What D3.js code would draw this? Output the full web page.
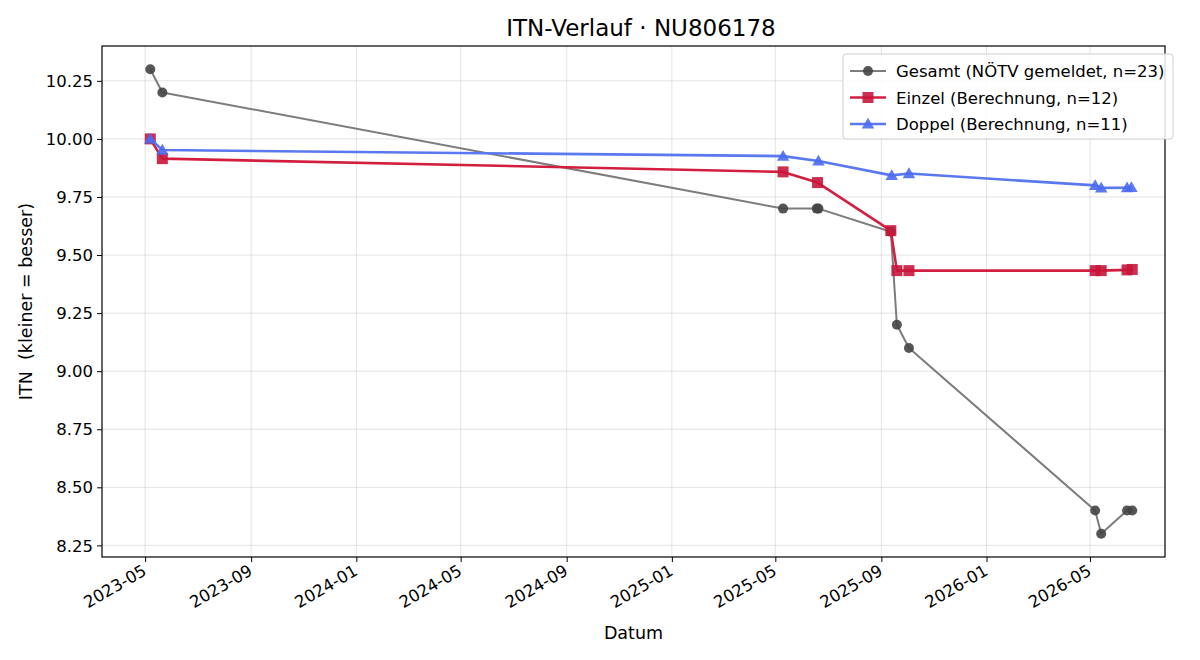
<!DOCTYPE html>
<html>
<head>
<meta charset="utf-8">
<script src="https://cdn.jsdelivr.net/npm/d3@7"></script>
<style>
  body { margin: 0; background: white; }
  text { font-family: "DejaVu Sans", sans-serif; fill: #000; }
</style>
</head>
<body>
<svg id="plot"></svg>
<script>
// Data
const gesamtDates = ["2023-05-07", "2023-05-21", "2025-05-10", "2025-06-18", "2025-06-20", "2025-09-12",
  "2025-09-19", "2025-10-03", "2026-05-07", "2026-05-14", "2026-06-13", "2026-06-19"];
const gesamtValues = [10.30, 10.20, 9.70, 9.70, 9.70, 9.60, 9.20, 9.10, 8.40, 8.30, 8.40, 8.40];

const einzelDates = ["2023-05-07", "2023-05-21", "2025-05-10", "2025-06-19", "2025-09-12", "2025-09-19",
  "2025-10-03", "2026-05-07", "2026-05-14", "2026-06-13", "2026-06-19"];
const einzelValues = [10.00, 9.915, 9.858, 9.812, 9.605, 9.433, 9.433, 9.433, 9.433, 9.436, 9.438];

const doppelDates = ["2023-05-07", "2023-05-21", "2025-05-10", "2025-06-20", "2025-09-13", "2025-10-03",
  "2026-05-07", "2026-05-14", "2026-06-13", "2026-06-18"];
const doppelValues = [10.00, 9.952, 9.926, 9.905, 9.843, 9.851, 9.800, 9.789, 9.790, 9.791];

const xDomain = ["2023-03-12", "2026-07-27"];
const yTicks = [8.25, 8.50, 8.75, 9.00, 9.25, 9.50, 9.75, 10.00, 10.25];

const seriesNames = ["Gesamt (NÖTV gemeldet, n=23)", "Einzel (Berechnung, n=12)", "Doppel (Berechnung, n=11)"];

const parse = d3.timeParse("%Y-%m-%d");
const toPoints = (dates, vals) => dates.map((d, i) => ({ date: parse(d), value: vals[i] }));

const series = [
  { name: seriesNames[0], data: toPoints(gesamtDates, gesamtValues), line: "#7c7c7c", fill: "#444444", width: 2, marker: "circle", size: 5 },
  { name: seriesNames[1], data: toPoints(einzelDates, einzelValues), line: "#d21f40", fill: "#c8163b", width: 2.6, marker: "square", size: 11 },
  { name: seriesNames[2], data: toPoints(doppelDates, doppelValues), line: "#5a78f0", fill: "#4a6cf0", width: 2.6, marker: "triangle", size: 12.5 }
];

// Dimensions
let width = 1200, height = 660;
let margin = { top: 46, bottom: 103, left: 102, right: 35 };

let svg = d3.select('#plot')
  .attr('width', width)
  .attr('height', height)
  .style('background', 'white');

// Scales
let xScale = d3.scaleTime()
  .domain(xDomain.map(parse))
  .range([margin.left, width - margin.right]);

const allPts = series.flatMap(s => s.data);
const yExt = d3.extent(allPts, d => d.value);
const yPad = (yExt[1] - yExt[0]) * 0.05;
let yScale = d3.scaleLinear()
  .domain([yExt[0] - yPad, yExt[1] + yPad])
  .range([height - margin.bottom, margin.top]);

const xTicks = xScale.ticks(d3.timeMonth.every(4));

// Grid
svg.append('g')
  .selectAll('line')
  .data(xTicks)
  .join('line')
  .attr('x1', d => xScale(d)).attr('x2', d => xScale(d))
  .attr('y1', margin.top).attr('y2', height - margin.bottom)
  .attr('stroke', '#b0b0b0').attr('stroke-opacity', 0.35).attr('stroke-width', 1);

svg.append('g')
  .selectAll('line')
  .data(yTicks)
  .join('line')
  .attr('x1', margin.left).attr('x2', width - margin.right)
  .attr('y1', d => yScale(d)).attr('y2', d => yScale(d))
  .attr('stroke', '#b0b0b0').attr('stroke-opacity', 0.35).attr('stroke-width', 1);

// Lines and markers
const line = d3.line().x(d => xScale(d.date)).y(d => yScale(d.value));

function drawMarker(g, s, x, y) {
  if (s.marker === 'circle') {
    g.append('circle').attr('cx', x).attr('cy', y).attr('r', s.size)
      .attr('fill', s.fill).attr('fill-opacity', 0.9);
  } else {
    const sym = s.marker === 'square' ? d3.symbolSquare : d3.symbolTriangle;
    const area = s.marker === 'square' ? s.size * s.size : s.size * s.size * 0.433;
    g.append('path').attr('d', d3.symbol(sym, area))
      .attr('transform', `translate(${x},${y + (s.marker === 'triangle' ? 1 : 0)})`)
      .attr('fill', s.fill).attr('fill-opacity', 0.9);
  }
}

series.forEach(s => {
  svg.append('path')
    .datum(s.data)
    .attr('d', line)
    .attr('fill', 'none')
    .attr('stroke', s.line)
    .attr('stroke-width', s.width)
    .attr('stroke-linejoin', 'round')
    .attr('stroke-linecap', 'round');

  const g = svg.append('g');
  s.data.forEach(d => drawMarker(g, s, xScale(d.date), yScale(d.value)));
});

// Axes
let xAxis = svg.append('g')
  .attr('transform', `translate(0, ${height - margin.bottom})`)
  .call(d3.axisBottom(xScale).tickValues(xTicks).tickFormat(d3.timeFormat('%Y-%m')).tickSizeOuter(0).tickSize(5));
xAxis.select('.domain').remove();
xAxis.selectAll('text')
  .style('font-size', '16.5px')
  .attr('text-anchor', 'end')
  .attr('dy', null)
  .attr('y', 0)
  .attr('transform', 'translate(2, 17) rotate(-30)');

let yAxis = svg.append('g')
  .attr('transform', `translate(${margin.left}, 0)`)
  .call(d3.axisLeft(yScale).tickValues(yTicks).tickFormat(d3.format('.2f')).tickSizeOuter(0).tickSize(5));
yAxis.select('.domain').remove();
yAxis.selectAll('text').style('font-size', '16.5px').attr('x', -9).attr('dy', '0.34em');

// Frame
svg.append('rect')
  .attr('x', margin.left).attr('y', margin.top)
  .attr('width', width - margin.left - margin.right)
  .attr('height', height - margin.top - margin.bottom)
  .attr('fill', 'none').attr('stroke', 'black').attr('stroke-width', 1.2);

// Title and labels
svg.append('text')
  .attr('x', 641).attr('y', 36)
  .attr('text-anchor', 'middle').style('font-size', '23px')
  .text('ITN-Verlauf · NU806178');

svg.append('text')
  .attr('x', (margin.left + width - margin.right) / 2).attr('y', 639)
  .attr('text-anchor', 'middle').style('font-size', '17.5px')
  .text('Datum');

svg.append('text')
  .attr('transform', `translate(32, ${(margin.top + height - margin.bottom) / 2}) rotate(-90)`)
  .attr('text-anchor', 'middle').style('font-size', '17.5px')
  .attr('xml:space', 'preserve')
  .style('white-space', 'pre')
  .text('ITN  (kleiner = besser)');

// Legend
const legend = svg.append('g').attr('transform', 'translate(843, 54)');
legend.append('rect')
  .attr('width', 330).attr('height', 85).attr('rx', 3)
  .attr('fill', 'white').attr('fill-opacity', 0.85)
  .attr('stroke', '#d0d0d0');

series.forEach((s, i) => {
  const y = 17 + i * 26.5;
  legend.append('line')
    .attr('x1', 7).attr('x2', 43).attr('y1', y).attr('y2', y)
    .attr('stroke', s.line).attr('stroke-width', s.width);
  drawMarker(legend, s, 25, y);
  legend.append('text')
    .attr('x', 53).attr('y', y + 6)
    .style('font-size', '16.5px')
    .text(s.name);
});
</script>
</body>
</html>
